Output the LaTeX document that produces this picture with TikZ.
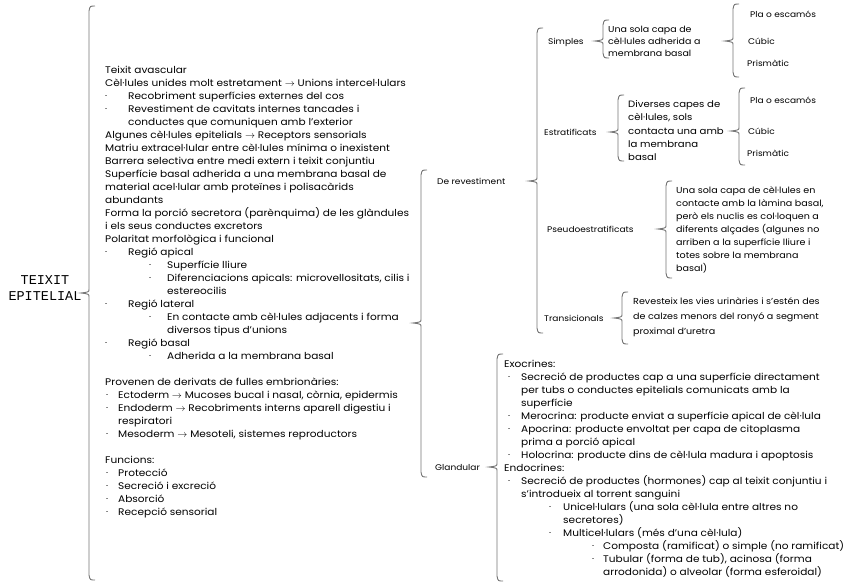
\documentclass[tikz,border=0pt]{standalone}
\usepackage{fontspec}
\setmainfont[FakeStretch=1.1]{Poppins}
\newfontfamily\titlefont{Liberation Mono}
\usetikzlibrary{positioning}
\definecolor{brcgray}{RGB}{118,118,118}
\tikzset{
    txt/.style={font=\fontsize{9.6}{13}\selectfont, inner sep=0pt, align=left, anchor=north west},
    lbl/.style={font=\fontsize{8.2}{13}\selectfont, inner sep=0pt, anchor=base west},
    brc/.style={draw=brcgray, line width=0.9pt},
}
\newcommand{\bul}{\raisebox{0.18em}{\fontsize{4.5}{5}\selectfont\textbullet}}
\newcommand{\itm}[2]{\hspace*{#1}\makebox[#2][l]{\bul}}
\newcommand{\cnt}[1]{\hspace*{#1}}
\newcommand{\ra}{$\rightarrow$}
% brace: x, top, bottom, tip
\newcommand{\brk}[4]{%
    \draw[brc] (#1+6,#2) .. controls (#1+1,#2) .. (#1,#2+5) -- (#1,#4-4)
        .. controls (#1,#4-1) .. (#1-8,#4) .. controls (#1,#4+1) .. (#1,#4+4)
        -- (#1,#3-5) .. controls (#1+1,#3) .. (#1+6,#3);}

\begin{document}
\begin{tikzpicture}[x=1pt, y=-1pt]
    \useasboundingbox[fill=white] (0,0) rectangle (848,587);

    % root
    \node[font=\titlefont\fontsize{13.5}{16}\selectfont, align=center, inner sep=0pt] (root) at (45,288) {TEIXIT\\EPITELIAL};
    \brk{89}{6}{580}{293}

    % general properties
    \node[txt] (props) at (105,65.5) {%
        Teixit avascular\\
        Cèl·lules unides molt estretament \ra{} Unions intercel·lulars\\
        \itm{0pt}{23pt}Recobriment superfícies externes del cos\\
        \itm{0pt}{23pt}Revestiment de cavitats internes tancades i\\
        \cnt{23pt}conductes que comuniquen amb l’exterior\\
        Algunes cèl·lules epitelials \ra{} Receptors sensorials\\
        Matriu extracel·lular entre cèl·lules mínima o inexistent\\
        Barrera selectiva entre medi extern i teixit conjuntiu\\
        Superfície basal adherida a una membrana basal de\\
        material acel·lular amb proteïnes i polisacàrids\\
        abundants\\
        Forma la porció secretora (parènquima) de les glàndules\\
        i els seus conductes excretors\\
        Polaritat morfològica i funcional\\
        \itm{0pt}{23pt}Regió apical\\
        \itm{44pt}{18pt}Superfície lliure\\
        \itm{44pt}{18pt}Diferenciacions apicals: microvellositats, cilis i\\
        \cnt{62pt}estereocilis\\
        \itm{0pt}{23pt}Regió lateral\\
        \itm{44pt}{18pt}En contacte amb cèl·lules adjacents i forma\\
        \cnt{62pt}diversos tipus d’unions\\
        \itm{0pt}{23pt}Regió basal\\
        \itm{44pt}{18pt}Adherida a la membrana basal\\
        \mbox{}\\
        Provenen de derivats de fulles embrionàries:\\
        \itm{1pt}{12pt}Ectoderm \ra{} Mucoses bucal i nasal, còrnia, epidermis\\
        \itm{1pt}{12pt}Endoderm \ra{} Recobriments interns aparell digestiu i\\
        \cnt{13pt}respiratori\\
        \itm{1pt}{12pt}Mesoderm \ra{} Mesoteli, sistemes reproductors\\
        \mbox{}\\
        Funcions:\\
        \itm{1pt}{12pt}Protecció\\
        \itm{1pt}{12pt}Secreció i excreció\\
        \itm{1pt}{12pt}Absorció\\
        \itm{1pt}{12pt}Recepció sensorial};

    % two kinds
    \brk{421}{170}{477}{323}
    \node[lbl] (rev) at (437,184) {De revestiment};
    \node[lbl] (gland) at (435,470) {Glandular};

    % de revestiment
    \brk{537}{28}{333}{181}
    \node[lbl] (simp) at (548,44) {Simples};
    \node[lbl] (estr) at (544,135) {Estratificats};
    \node[lbl] (pseu) at (547,232) {Pseudoestratificats};
    \node[lbl] (tran) at (544,321) {Transicionals};

    % simples
    \brk{603}{20}{58}{41}
    \node[txt, font=\fontsize{8.6}{12}\selectfont] (simptxt) at (608,25.5) {Una sola capa de\\cèl·lules adherida a\\membrana basal};
    \brk{733}{4}{77}{41}
    \node[lbl] (simpA) at (750,17) {Pla o escamós};
    \node[lbl] (simpB) at (748,44) {Cúbic};
    \node[lbl] (simpC) at (747,66) {Prismàtic};

    % estratificats
    \brk{618}{95}{161}{132}
    \node[txt, font=\fontsize{9.2}{13.2}\selectfont] (estrtxt) at (628,100.5) {Diverses capes de\\cèl·lules, sols\\contacta una amb\\la membrana\\basal};
    \brk{739}{88}{165}{131}
    \node[lbl] (estrA) at (750,103) {Pla o escamós};
    \node[lbl] (estrB) at (748,134) {Cúbic};
    \node[lbl] (estrC) at (747,156) {Prismàtic};

    % pseudoestratificats
    \brk{666}{181}{278}{229}
    \node[txt, font=\fontsize{8.7}{13}\selectfont] (pseutxt) at (676,186.5) {Una sola capa de cèl·lules en\\contacte amb la làmina basal,\\però els nuclis es col·loquen a\\diferents alçades (algunes no\\arriben a la superfície lliure i\\totes sobre la membrana\\basal)};

    % transicionals
    \brk{622}{292}{344}{318}
    \node[txt, font=\fontsize{8.7}{15}\selectfont] (trantxt) at (633,297.5) {Revesteix les vies urinàries i s’estén des\\de calzes menors del ronyó a segment\\proximal d’uretra};

    % glandular
    \brk{497}{354}{581}{467}
    \node[txt] (glandtxt) at (504,359.5) {%
        Exocrines:\\
        \itm{4pt}{13pt}Secreció de productes cap a una superfície directament\\
        \cnt{17pt}per tubs o conductes epitelials comunicats amb la\\
        \cnt{17pt}superfície\\
        \itm{4pt}{13pt}Merocrina: producte enviat a superfície apical de cèl·lula\\
        \itm{4pt}{13pt}Apocrina: producte envoltat per capa de citoplasma\\
        \cnt{17pt}prima a porció apical\\
        \itm{4pt}{13pt}Holocrina: producte dins de cèl·lula madura i apoptosis\\
        Endocrines:\\
        \itm{4pt}{13pt}Secreció de productes (hormones) cap al teixit conjuntiu i\\
        \cnt{17pt}s’introdueix al torrent sanguini\\
        \itm{45pt}{14pt}Unicel·lulars (una sola cèl·lula entre altres no\\
        \cnt{59pt}secretores)\\
        \itm{45pt}{14pt}Multicel·lulars (més d’una cèl·lula)\\
        \itm{88pt}{11pt}Composta (ramificat) o simple (no ramificat)\\
        \itm{88pt}{11pt}Tubular (forma de tub), acinosa (forma\\
        \cnt{99pt}arrodonida) o alveolar (forma esferoidal)};
\end{tikzpicture}
\end{document}
